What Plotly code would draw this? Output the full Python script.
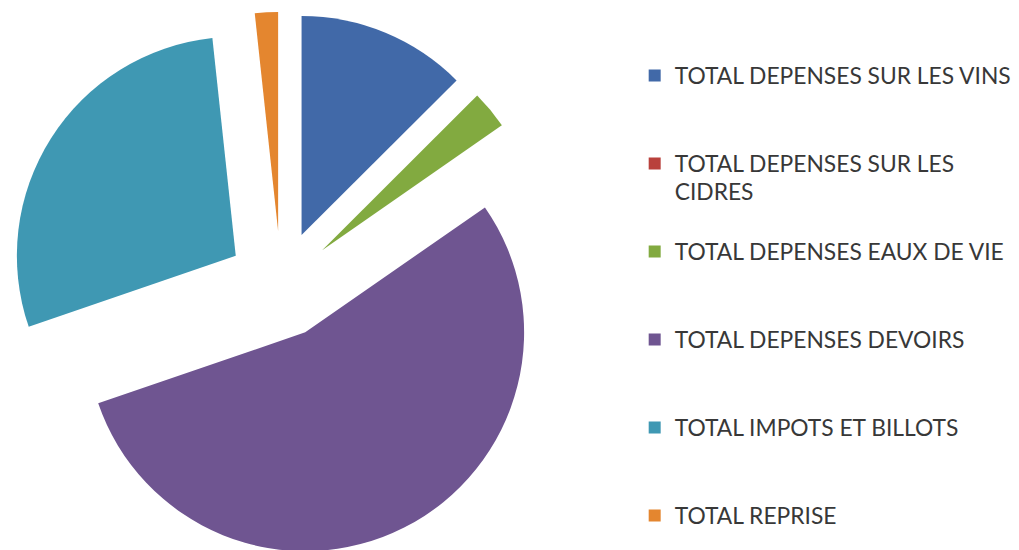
import plotly.graph_objects as go

# Répartition des dépenses (en %)
labels = [
    "TOTAL DEPENSES SUR LES VINS",
    "TOTAL DEPENSES SUR LES<br>CIDRES",
    "TOTAL DEPENSES EAUX DE VIE",
    "TOTAL DEPENSES DEVOIRS",
    "TOTAL IMPOTS ET BILLOTS",
    "TOTAL REPRISE",
]
valeurs = [12.5, 0.0, 2.8, 54.3, 28.5, 1.7]
couleurs = ["#4169A8", "#B9413C", "#82AA40", "#6F5591", "#3F98B3", "#E4862F"]

# lignes vides pour espacer les entrées de la légende
etiquettes = []
for lab in labels:
    n = lab.count("<br>") + 1
    lignes = ['<span style="font-size:22.8px">' + l + "</span>" for l in lab.split("<br>")]
    etiquettes.append("<br>".join(lignes) + "<br> " * (3 - n))

fig = go.Figure(go.Pie(
    labels=etiquettes,
    values=valeurs,
    sort=False,
    direction="clockwise",
    rotation=0,
    pull=0.245,
    textinfo="none",
    hoverinfo="percent",
    marker=dict(colors=couleurs, line=dict(width=0)),
    domain=dict(x=[0, 0.5358], y=[0, 1]),
))

fig.update_layout(
    width=1019,
    height=550,
    margin=dict(l=0, r=0, t=4, b=1, autoexpand=False),
    paper_bgcolor="white",
    plot_bgcolor="white",
    showlegend=True,
    legend=dict(
        x=0.615, y=0.9215, xanchor="left", yanchor="top",
        valign="top",
        font=dict(family="Lato", size=21.8, color="#383838"),
        bgcolor="rgba(0,0,0,0)",
    ),
)

fig.write_html("out.html")
